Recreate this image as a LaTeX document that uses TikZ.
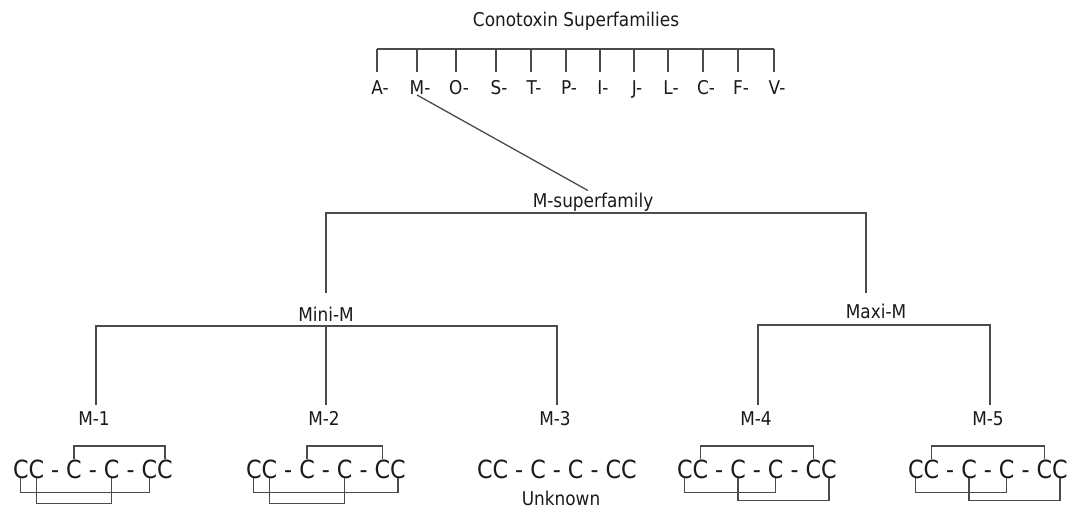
\documentclass[tikz,border=0pt]{standalone}
\usepackage{fontspec}
\setmainfont{DejaVu Sans}[FakeStretch=0.89]
\usetikzlibrary{positioning}
\definecolor{lineGray}{HTML}{4A4A4A}
\definecolor{inkBlack}{HTML}{1A1A1A}

% one cysteine framework, nodes #1c1..#1c6, baseline of first C at (#2,#3)
\newcommand{\cysframe}[3]{%
  \node[cys, anchor=base west] (#1c1) at (#2,#3) {C};
  \node[cys, base right=0pt of #1c1] (#1c2) {C};
  \node[cys, base right=0pt of #1c2] (#1d1) {\ -\ \null};
  \node[cys, base right=0pt of #1d1] (#1c3) {C};
  \node[cys, base right=0pt of #1c3] (#1d2) {\ -\ \null};
  \node[cys, base right=0pt of #1d2] (#1c4) {C};
  \node[cys, base right=0pt of #1c4] (#1d3) {\ -\ \null};
  \node[cys, base right=0pt of #1d3] (#1c5) {C};
  \node[cys, base right=0pt of #1c5] (#1c6) {C};
}

\begin{document}
\begin{tikzpicture}[
  x=1pt, y=-1pt,
  lbl/.style={font=\fontsize{19}{23}\selectfont, inner sep=0pt, outer sep=0pt,
              text=inkBlack, anchor=base},
  cys/.style={font=\fontsize{25}{30}\selectfont, inner sep=0pt, outer sep=0pt,
              text=inkBlack},
  link/.style={draw=lineGray, line width=1.3pt},
  bond/.style={draw=lineGray, line width=1.2pt},
]
\useasboundingbox (0,0) rectangle (1078,510);

% superfamilies
\node[lbl] (title) at (576,27) {Conotoxin Superfamilies};
\coordinate (bar) at (0,49);
\foreach \fam/\x in {A/377, M/417, O/456, S/496, T/531, P/566,
                     I/600, J/634, L/668, C/703, F/738, V/774} {
  \coordinate (t\fam) at (\x,72);
  \node[lbl] (f\fam) at (\x+3,95) {\fam-};
  \draw[link] (t\fam |- bar) -- (t\fam);
}
\draw[link] (tA |- bar) -- (tV |- bar);

% M-superfamily tree
\node[lbl] (msup) at (593,208) {M-superfamily};
\node[lbl] (mini) at (326,321) {Mini-M};
\node[lbl] (maxi) at (876,319) {Maxi-M};
\node[lbl] (m1) at (94,425) {M-1};
\node[lbl] (m2) at (324,425) {M-2};
\node[lbl] (m3) at (555,425) {M-3};
\node[lbl] (m4) at (756,425) {M-4};
\node[lbl] (m5) at (988,425) {M-5};

\draw[link] ([xshift=-3pt]fM.south) -- ([xshift=-5pt,yshift=3pt]msup.north);
\draw[link] ([yshift=14pt]mini.north) |- ([yshift=-5pt]msup.base)
            -| ([xshift=-10pt,yshift=12pt]maxi.north);
\draw[link] ([xshift=2pt,yshift=6pt]m1.north) |- ([yshift=-5pt]mini.base)
            -| ([xshift=2pt,yshift=6pt]m3.north);
\draw[link] ([yshift=-5pt]mini.base) -- ([xshift=2pt,yshift=6pt]m2.north);
\draw[link] ([xshift=2pt,yshift=6pt]m4.north) |- ([yshift=-6pt]maxi.base)
            -| ([xshift=2pt,yshift=6pt]m5.north);

% cysteine frameworks
\cysframe{pa}{13}{478}
\cysframe{pb}{246}{478}
\cysframe{pc}{477}{478}
\cysframe{pd}{677}{478}
\cysframe{pe}{908}{478}
\node[lbl] (unk) at (561,505) {Unknown};

% M-1
\draw[bond] (pac3.north) -- ++(0,-13.5) -| (pac6.north);
\draw[bond] (pac1.south) -- ++(0,14) -| (pac5.south);
\draw[bond] (pac2.south) -- ++(0,25) -| (pac4.south);
% M-2
\draw[bond] (pbc3.north) -- ++(0,-13.5) -| (pbc5.north);
\draw[bond] (pbc1.south) -- ++(0,14) -| (pbc6.south);
\draw[bond] (pbc2.south) -- ++(0,25) -| (pbc4.south);
% M-4
\draw[bond] (pdc2.north) -- ++(0,-13.5) -| (pdc5.north);
\draw[bond] (pdc1.south) -- ++(0,14) -| (pdc4.south);
\draw[bond] (pdc3.south) -- ++(0,22) -| (pdc6.south);
% M-5
\draw[bond] (pec2.north) -- ++(0,-13.5) -| (pec5.north);
\draw[bond] (pec1.south) -- ++(0,14) -| (pec4.south);
\draw[bond] (pec3.south) -- ++(0,22) -| (pec6.south);

\end{tikzpicture}
\end{document}
